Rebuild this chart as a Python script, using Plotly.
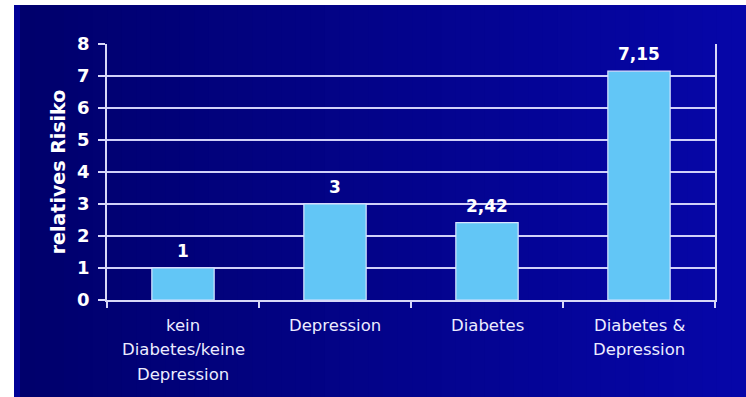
import plotly.graph_objects as go

categories = ["kein Diabetes/keine Depression", "Depression", "Diabetes", "Diabetes & Depression"]
category_lines = [["kein", "Diabetes/keine", "Depression"], ["Depression"], ["Diabetes"], ["Diabetes &", "Depression"]]
values = [1, 3, 2.42, 7.15]
y_ticks = [0, 1, 2, 3, 4, 5, 6, 7, 8]
y_title = "relatives Risiko"

W, H = 746, 397
L, R, T, B = 107, 31, 44, 97
pw, ph = W - L - R, H - T - B

def px_to_paper_x(px):
    return (px - L) / pw

def px_to_paper_y(py):
    return (H - B - py) / ph

BOLD = "DejaVu Sans, Verdana"

fig = go.Figure()
fig.add_trace(go.Bar(
    x=categories, y=values, width=0.41,
    marker=dict(color="#62c6f6", line=dict(color="#d8e4ff", width=1.2)),
    hoverinfo="skip",
))

shapes = []
# background gradient strips (overlapping to avoid seams)
n = 50
x0p, x1p = 20, W
shapes.append(dict(type="rect", xref="paper", yref="paper",
                   x0=px_to_paper_x(14), x1=px_to_paper_x(W + 2),
                   y0=px_to_paper_y(H + 2), y1=px_to_paper_y(5),
                   fillcolor="rgb(0,0,150)", line=dict(width=0), layer="below"))
for i in range(n):
    a = x0p + (x1p - x0p) * i / n
    t = i / (n - 1)
    r = int(round(6 * t))
    g = int(round(6 * t))
    bl = int(round(108 + 60 * t))
    shapes.append(dict(type="rect", xref="paper", yref="paper",
                       x0=px_to_paper_x(a), x1=px_to_paper_x(W + 2),
                       y0=px_to_paper_y(H + 2), y1=px_to_paper_y(5),
                       fillcolor=f"rgb({r},{g},{bl})", line=dict(width=0), layer="below"))

annotations = []
for cat, v in zip(categories, values):
    label = f"{v:g}".replace(".", ",")
    annotations.append(dict(x=cat, y=v, xref="x", yref="y", text=f"<b>{label}</b>",
                            showarrow=False, yanchor="bottom", yshift=5,
                            font=dict(family=BOLD, size=17, color="white")))
for cat, lines in zip(categories, category_lines):
    for j, line in enumerate(lines):
        annotations.append(dict(x=cat, y=0, xref="x", yref="y", text=line,
                                showarrow=False, yanchor="middle", yshift=-(25 + 24.5 * j),
                                font=dict(family="DejaVu Sans, Verdana", size=16.5, color="#ececff")))

fig.update_layout(
    width=W, height=H,
    margin=dict(l=L, r=R, t=T, b=B),
    paper_bgcolor="white",
    plot_bgcolor="rgba(0,0,0,0)",
    showlegend=False,
    shapes=shapes,
    annotations=annotations,
    xaxis=dict(
        type="category", showticklabels=False, tickson="boundaries",
        ticks="outside", ticklen=6, tickcolor="#d8d8f8", tickwidth=1.5,
        showline=True, linecolor="#d8d8f8", linewidth=1.5, mirror=False,
        showgrid=False, zeroline=False,
    ),
    yaxis=dict(
        range=[0, 8], tickvals=y_ticks, ticktext=[f"<b>{t}</b>" for t in y_ticks],
        ticks="outside", ticklen=7, tickcolor="#d8d8f8", tickwidth=1.5,
        ticklabelstandoff=5,
        tickfont=dict(family=BOLD, size=18, color="white"),
        showgrid=True, gridcolor="#d0d0f8", gridwidth=1.8,
        showline=True, linecolor="#d8d8f8", linewidth=1.5, mirror=True,
        zeroline=False,
        title=dict(text=f"<b>{y_title}</b>", standoff=6,
                   font=dict(family=BOLD, size=19, color="white")),
    ),
)

fig.write_html("out.html")
